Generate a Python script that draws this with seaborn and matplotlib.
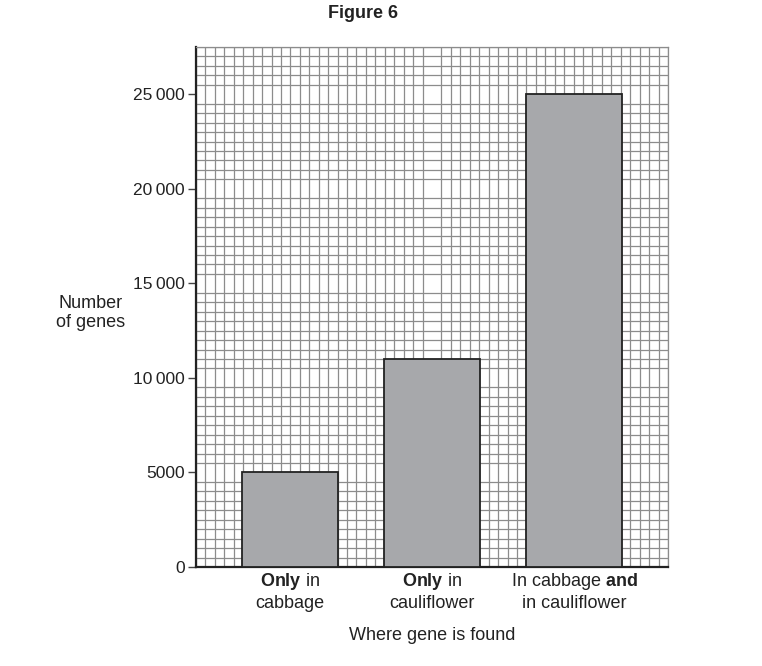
import numpy as np
import pandas as pd
import matplotlib
matplotlib.use("Agg")
import matplotlib.pyplot as plt
import seaborn as sns

categories = [r"$\mathbf{Only}$ in" + "\ncabbage",
              r"$\mathbf{Only}$ in" + "\ncauliflower",
              r"In cabbage $\mathbf{and}$" + "\nin cauliflower"]
values = [5000, 11000, 25000]
ytick_vals = [0, 5000, 10000, 15000, 20000, 25000]
ytick_labels = ["0", "5000", "10\u2009000", "15\u2009000", "20\u2009000", "25\u2009000"]

sns.set_theme(style="white")
plt.rcParams['font.family'] = ['Liberation Sans', 'DejaVu Sans']
plt.rcParams['mathtext.fontset'] = 'custom'
plt.rcParams['mathtext.rm'] = 'Liberation Sans'
plt.rcParams['mathtext.bf'] = 'Liberation Sans:bold'

FS = 13
fig = plt.figure(figsize=(7.62, 6.66), dpi=100)
ax = fig.add_axes([196/762, 1-567/666, 472/762, 520/666])

df = pd.DataFrame({"cat": categories, "val": values})
sns.barplot(data=df, x="cat", y="val", color="#a7a8ab", edgecolor="#222222",
            linewidth=1.3, width=0.67, saturation=1, ax=ax, zorder=3)

xl = (-0.662, 2.662)
ax.set_xlim(*xl)
ax.set_ylim(0, 27500)

ax.set_xticks(np.linspace(xl[0], xl[1], 51), minor=True)
ax.set_yticks(np.arange(0, 27501, 500), minor=True)
ax.set_yticks(ytick_vals)
ax.set_yticklabels(ytick_labels, fontsize=12.5, color="#222222")
ax.tick_params(axis='x', which='major', length=0, pad=3, labelsize=FS, labelcolor="#222222")
ax.tick_params(axis='y', which='major', length=6, width=1, color="#444444", pad=2, left=True)
ax.tick_params(which='minor', length=0)
ax.grid(False, which='major')
ax.grid(True, which='minor', color="#8c8c8c", linewidth=0.9)
ax.set_axisbelow(True)

for s in ['top', 'right']:
    ax.spines[s].set_color("#8c8c8c")
    ax.spines[s].set_linewidth(0.9)
for s in ['left', 'bottom']:
    ax.spines[s].set_color("#222222")
    ax.spines[s].set_linewidth(1.6)

ax.set_xlabel("Where gene is found", fontsize=FS, color="#222222", labelpad=11)
ax.set_ylabel("")
fig.text(91/762, 1-313/666, "Number\nof genes", ha="center", va="center",
         fontsize=FS, color="#222222", linespacing=1.15)
fig.text(363/762, 1-13/666, "Figure 6", ha="center", va="center",
         fontsize=FS, fontweight="bold", color="#222222")

fig.savefig("out.png", dpi=100)
